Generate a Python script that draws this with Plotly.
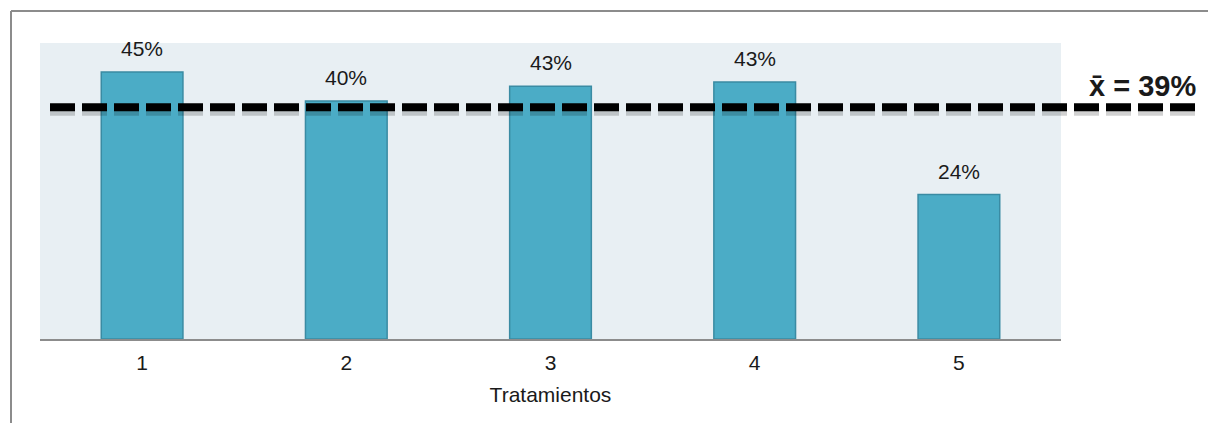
import plotly.graph_objects as go

categories = ["1", "2", "3", "4", "5"]
values = [0.451, 0.402, 0.427, 0.434, 0.244]
label_text = ["45%", "40%", "43%", "43%", "24%"]
mean_value = sum(values) / len(values)
mean_label = "x\u0304 = 39%"

fig = go.Figure()
fig.add_trace(go.Bar(
    x=categories, y=values,
    marker=dict(color="#4BACC6", line=dict(color="#3A8BA3", width=1.5)),
    hoverinfo="skip",
))

for i, (v, t) in enumerate(zip(values, label_text)):
    fig.add_annotation(x=i, y=v, text=t, showarrow=False, yanchor="bottom",
                       yshift=10, font=dict(size=21, color="#1a1a1a"))

# mean line shadow
fig.add_shape(type="line", xref="paper", yref="y",
              x0=0.0098, x1=1.132, y0=mean_value - 0.006, y1=mean_value - 0.006,
              line=dict(color="rgba(0,0,0,0.18)", width=10, dash="25px,7px"))
fig.add_shape(type="line", xref="paper", yref="y",
              x0=0.0098, x1=1.132, y0=mean_value, y1=mean_value,
              line=dict(color="black", width=8, dash="25px,7px"))
fig.add_annotation(xref="paper", yref="y", x=(1198 - 40) / 1021, y=mean_value,
                   yshift=21, text="<b>" + mean_label + "</b>", showarrow=False,
                   xanchor="right", yanchor="middle",
                   font=dict(size=29, color="#1a1a1a"))

# outer frame (top and left)
fig.add_shape(type="line", xref="paper", yref="paper",
              x0=(11 - 40) / 1021, x1=1.2, y0=(339 - 11) / 296, y1=(339 - 11) / 296,
              line=dict(color="#8c8c8c", width=2))
fig.add_shape(type="line", xref="paper", yref="paper",
              x0=(11 - 40) / 1021, x1=(11 - 40) / 1021, y0=(339 - 11) / 296, y1=-0.3,
              line=dict(color="#8c8c8c", width=2))

fig.update_layout(
    width=1208, height=423,
    margin=dict(l=40, r=147, t=43, b=84),
    paper_bgcolor="white", plot_bgcolor="#E8EFF3",
    bargap=0.6, showlegend=False,
    font=dict(family="Liberation Sans, Arial, sans-serif", size=21, color="#1a1a1a"),
    xaxis=dict(type="category", range=[-0.5, 4.5],
               showline=True, linecolor="#8c8c8c", linewidth=2, showgrid=False,
               ticks="outside", ticklen=4, tickcolor="rgba(0,0,0,0)",
               tickfont=dict(size=21),
               title=dict(text="Tratamientos", font=dict(size=21), standoff=14)),
    yaxis=dict(range=[0, 0.5], visible=False, showgrid=False),
)

fig.write_html("out.html")
